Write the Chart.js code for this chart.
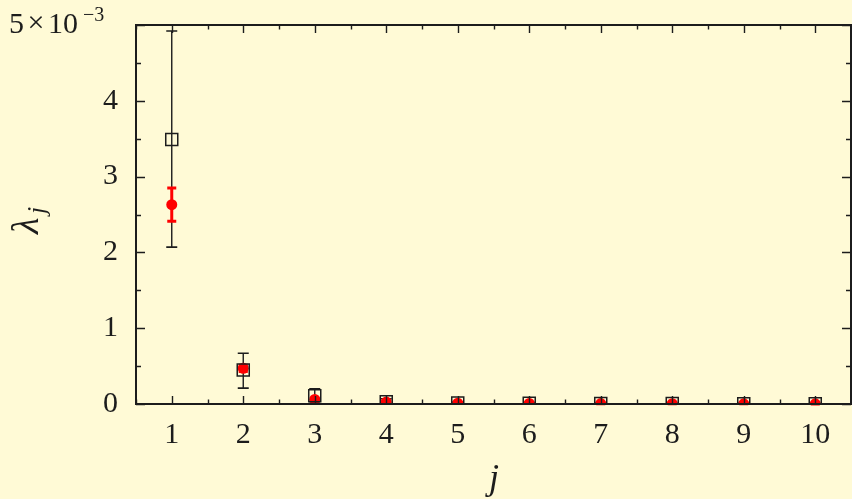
<!DOCTYPE html>
<html><head><meta charset="utf-8">
<script src="https://cdn.jsdelivr.net/npm/chart.js@4.4.0/dist/chart.umd.min.js"></script>
<style>html,body{margin:0;padding:0;background:#fffad6;overflow:hidden}</style>
</head><body><canvas id="c" width="852" height="499" style="display:block"></canvas>
<script>
// data (lambda values in units of 1e-3)
const jValues = [1, 2, 3, 4, 5, 6, 7, 8, 9, 10];
const blackVals = [3.49, 0.45, 0.11, 0.03, 0.013, 0.011, 0.006, 0.005, 0.004, 0.003];
const blackLow  = [2.07, 0.21, 0.03, 0.0, 0.003, 0.003, 0.001, 0.001, 0.001, 0.0];
const blackHigh = [4.92, 0.67, 0.20, 0.07, 0.025, 0.02, 0.012, 0.010, 0.008, 0.007];
const redVals   = [2.63, 0.47, 0.06, 0.025, 0.010, 0.008, 0.005, 0.004, 0.003, 0.002];
const redLow    = [2.41, 0.43, 0.045, 0.018, 0.006, 0.005, 0.003, 0.002, 0.002, 0.001];
const redHigh   = [2.85, 0.51, 0.075, 0.032, 0.014, 0.011, 0.007, 0.006, 0.005, 0.004];
const xTicks = [1, 2, 3, 4, 5, 6, 7, 8, 9, 10];
const yTicks = [0, 1, 2, 3, 4, 5];

const BG = '#fffad6';
const INK = '#1c1c1c';
const SERIF = '"Liberation Serif", "DejaVu Serif", serif';

function errBars(chart, lo, hi, color, lw, capHalf, capLw) {
  const ctx = chart.ctx, xs = chart.scales.x, ys = chart.scales.y;
  ctx.save();
  ctx.strokeStyle = color;
  for (let i = 0; i < jValues.length; i++) {
    const x = xs.getPixelForValue(jValues[i]);
    const y1 = ys.getPixelForValue(lo[i]), y2 = ys.getPixelForValue(hi[i]);
    ctx.lineWidth = lw;
    ctx.beginPath(); ctx.moveTo(x, y1); ctx.lineTo(x, y2); ctx.stroke();
    ctx.lineWidth = capLw;
    ctx.beginPath();
    ctx.moveTo(x - capHalf, y1); ctx.lineTo(x + capHalf, y1);
    ctx.moveTo(x - capHalf, y2); ctx.lineTo(x + capHalf, y2);
    ctx.stroke();
  }
  ctx.restore();
}

const framePlugin = {
  id: 'frame',
  beforeDraw(chart) {
    const ctx = chart.ctx;
    ctx.save(); ctx.fillStyle = BG; ctx.fillRect(0, 0, chart.width, chart.height); ctx.restore();
  },
  beforeDatasetsDraw(chart) {
    errBars(chart, blackLow, blackHigh, INK, 1.4, 5.5, 1.6);
  },
  afterDatasetDraw(chart, args) {
    if (args.index === 0) errBars(chart, redLow, redHigh, '#ff0000', 3, 4.5, 3);
  },
  afterDraw(chart) {
    const ctx = chart.ctx, a = chart.chartArea, xs = chart.scales.x, ys = chart.scales.y;
    ctx.save();
    ctx.strokeStyle = INK;
    // ticks
    ctx.lineWidth = 1.4;
    ctx.beginPath();
    for (let v = 0.5; v <= 10.5; v += 0.5) {
      const x = Math.round(xs.getPixelForValue(v)) + 0.5;
      const L = Number.isInteger(v) ? 8 : 4.5;
      ctx.moveTo(x, a.bottom); ctx.lineTo(x, a.bottom - L);
      ctx.moveTo(x, a.top); ctx.lineTo(x, a.top + L);
    }
    for (let v = 0; v <= 5; v += 0.5) {
      const y = Math.round(ys.getPixelForValue(v)) + 0.5;
      const L = Number.isInteger(v) ? 9 : 5;
      ctx.moveTo(a.left, y); ctx.lineTo(a.left + L, y);
      ctx.moveTo(a.right, y); ctx.lineTo(a.right - L, y);
    }
    ctx.stroke();
    // frame
    ctx.lineWidth = 2;
    ctx.strokeRect(a.left, a.top, a.right - a.left, a.bottom - a.top);
    // top y label 5x10^-3
    ctx.fillStyle = INK;
    ctx.textBaseline = 'alphabetic';
    ctx.font = '30px ' + SERIF;
    ctx.textAlign = 'left';
    ctx.fillText('5', 9, 33);
    ctx.textAlign = 'center';
    ctx.fillText('×', 36, 32);
    ctx.textAlign = 'left';
    ctx.fillText('10', 48, 33);
    ctx.font = '20px ' + SERIF;
    ctx.fillText('−3', 83, 21);
    // x title
    ctx.font = 'italic 36px ' + SERIF;
    ctx.textAlign = 'center';
    ctx.fillText('j', 494, 489);
    // y title
    ctx.translate(38, 220);
    ctx.rotate(-Math.PI / 2);
    ctx.font = 'italic 38px ' + SERIF;
    ctx.textAlign = 'left';
    ctx.fillText('λ', -14, 0);
    ctx.font = 'italic 26px ' + SERIF;
    ctx.fillText('j', 6, 7);
    ctx.restore();
  }
};

new Chart(document.getElementById('c'), {
  type: 'scatter',
  data: {
    datasets: [
      {
        label: 'red',
        data: jValues.map((j, i) => ({x: j, y: redVals[i]})),
        pointStyle: 'circle', pointRadius: 5.5, pointHoverRadius: 5.5,
        backgroundColor: '#ff0000', borderColor: '#ff0000', borderWidth: 0, order: 2
      },
      {
        label: 'black',
        data: jValues.map((j, i) => ({x: j, y: blackVals[i]})),
        pointStyle: 'rect', pointRadius: 8.5, pointHoverRadius: 8.5,
        backgroundColor: 'rgba(0,0,0,0)', borderColor: INK, borderWidth: 1.5, order: 1
      }
    ]
  },
  options: {
    responsive: false, animation: false,
    layout: {autoPadding: false, padding: {top: 25, right: 1, left: 0, bottom: 0}},
    plugins: {legend: {display: false}, tooltip: {enabled: false}},
    scales: {
      x: {
        type: 'linear', min: 0.5, max: 10.5,
        afterBuildTicks(s) { s.ticks = xTicks.map(v => ({value: v})); },
        afterFit(s) { s.height = 95; s.paddingLeft = 0; s.paddingRight = 0; },
        grid: {display: false, drawTicks: false}, border: {display: false},
        ticks: {padding: 13, color: INK, font: {family: SERIF, size: 30}, maxRotation: 0, autoSkip: false,
                callback: v => String(v)}
      },
      y: {
        type: 'linear', min: 0, max: 5,
        afterBuildTicks(s) { s.ticks = yTicks.map(v => ({value: v})); },
        afterFit(s) { s.width = 136; s.paddingTop = 0; s.paddingBottom = 0; },
        grid: {display: false, drawTicks: false}, border: {display: false},
        ticks: {padding: 18, color: INK, font: {family: SERIF, size: 30}, autoSkip: false,
                callback: v => (v === 5 ? '' : String(v))}
      }
    }
  },
  plugins: [framePlugin]
});
</script>
</body></html>
